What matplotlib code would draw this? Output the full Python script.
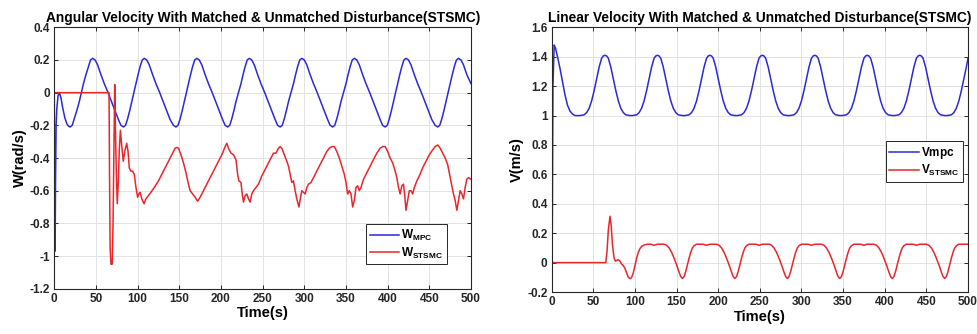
import matplotlib
matplotlib.use("Agg")
import matplotlib.pyplot as plt

plt.rcParams['font.family'] = ['Liberation Sans', 'DejaVu Sans']
plt.rcParams['mathtext.fontset'] = 'custom'
plt.rcParams['mathtext.rm'] = 'Liberation Sans'
plt.rcParams['mathtext.bf'] = 'Liberation Sans:bold'
plt.rcParams['mathtext.it'] = 'Liberation Sans:italic'

# ---------------- Left panel: angular velocity ----------------
t_w_mpc = [0, 0.4, 1.0, 1.5, 2.2, 3, 4.5, 6, 8, 10, 12.5, 15, 17, 19,
           21.5, 24, 27, 30, 32.5, 35, 38, 41, 43.5, 46,
           49, 52, 56, 60, 64.5, 69, 73, 77, 80, 83,
           85.5, 88, 90.5, 93, 95.5, 98, 100.5, 103, 105.5, 108,
           111, 114, 118, 122, 126.5, 131, 135, 139, 143, 146,
           148.5, 151, 153.5, 156, 158.5, 161, 163.5, 166, 168.5, 171,
           174, 177, 181, 185, 189.5, 194, 198, 202, 205, 208,
           210.5, 213, 215.5, 218, 221, 224, 226.5, 229, 231.5, 234,
           237, 240, 244, 248, 252.5, 257, 261, 265, 268, 271,
           273.5, 276, 278.5, 281, 284, 287, 289.5, 292, 294.5, 297,
           300, 303, 307, 311, 315.5, 320, 324, 328, 331, 334,
           336.5, 339, 341.5, 344, 347, 350, 352.5, 355, 357.5, 360,
           363, 366, 370, 374, 378.5, 383, 387, 391, 394, 397,
           399.5, 402, 404.5, 407, 409.5, 412, 414.5, 417, 419.5, 422,
           425, 428, 432, 436, 440.5, 445, 449, 453, 457, 460,
           462.5, 465, 467.5, 470, 472.5, 475, 477.5, 480, 482.5, 485,
           488, 491, 495, 500]
w_mpc = [0, -0.6, -0.97, -0.55, -0.2, -0.1, -0.02, 0.0, -0.03, -0.09, -0.15, -0.19, -0.205, -0.21,
         -0.20, -0.16, -0.11, -0.055, 0.0, 0.055, 0.11, 0.16, 0.20, 0.21,
         0.20, 0.17, 0.11, 0.055, 0.0, -0.06, -0.115, -0.165, -0.20, -0.21,
         -0.20, -0.16, -0.11, -0.055, 0.0, 0.055, 0.11, 0.16, 0.20, 0.21,
         0.20, 0.17, 0.11, 0.055, 0.0, -0.06, -0.115, -0.165, -0.20, -0.21,
         -0.20, -0.16, -0.11, -0.055, 0.0, 0.055, 0.11, 0.16, 0.20, 0.21,
         0.20, 0.17, 0.11, 0.055, 0.0, -0.06, -0.115, -0.165, -0.20, -0.21,
         -0.20, -0.16, -0.11, -0.055, 0.0, 0.055, 0.11, 0.16, 0.20, 0.21,
         0.20, 0.17, 0.11, 0.055, 0.0, -0.06, -0.115, -0.165, -0.20, -0.21,
         -0.20, -0.16, -0.11, -0.055, 0.0, 0.055, 0.11, 0.16, 0.20, 0.21,
         0.20, 0.17, 0.11, 0.055, 0.0, -0.06, -0.115, -0.165, -0.20, -0.21,
         -0.20, -0.16, -0.11, -0.055, 0.0, 0.055, 0.11, 0.16, 0.20, 0.21,
         0.20, 0.17, 0.11, 0.055, 0.0, -0.06, -0.115, -0.165, -0.20, -0.21,
         -0.20, -0.16, -0.11, -0.055, 0.0, 0.055, 0.11, 0.16, 0.20, 0.21,
         0.20, 0.17, 0.11, 0.055, 0.0, -0.06, -0.115, -0.165, -0.20, -0.21,
         -0.20, -0.16, -0.11, -0.055, 0.0, 0.055, 0.11, 0.16, 0.20, 0.21,
         0.20, 0.17, 0.11, 0.055]

t_w_stsmc = [0, 65.7, 66.3, 67, 68, 69.5, 70.5, 71.5, 72.5, 73.3, 74.5, 75.6, 76.8, 78,
             79.3, 81, 82.8, 84.5, 86.9, 88.5, 90, 91.7, 94, 96, 98, 100, 101.5, 103,
             105, 107.7, 110, 113, 116, 120, 125, 130, 135, 140, 143, 145, 147, 149,
             152, 155, 158, 161, 163, 166, 169, 172, 175, 178, 182, 186, 190, 194,
             198, 202, 205, 207, 209, 212, 215, 218, 220, 221.5, 224, 225.5, 227, 229,
             231, 233, 235, 237, 239, 242, 245, 249, 253, 257, 260, 263, 266, 269,
             271, 273, 276, 279, 281, 283, 285, 287, 289, 291, 293.5, 295.5, 297, 299,
             301, 303, 305, 308, 311, 315, 319, 323, 327, 330, 333, 336, 339, 342,
             345, 348, 350, 352, 354, 356, 358, 360, 362, 364, 366, 368, 371, 375,
             379, 383, 387, 391, 394, 397, 400, 403, 406, 409, 411, 413, 415, 417,
             419, 420.5, 422, 424, 426, 428, 430, 432, 435, 438, 442, 446, 450, 454,
             457, 460, 463, 466, 469, 472, 475, 477, 479, 481, 483, 485, 487, 489,
             491, 493, 495, 497, 500]
w_stsmc = [0, 0, -0.5, -0.95, -1.05, -1.05, -0.8, -0.4, 0.05, -0.2, -0.5, -0.68, -0.55, -0.35,
           -0.23, -0.33, -0.42, -0.36, -0.31, -0.36, -0.46, -0.48, -0.48, -0.50, -0.58, -0.64, -0.62, -0.61,
           -0.65, -0.68, -0.65, -0.63, -0.61, -0.58, -0.54, -0.49, -0.44, -0.39, -0.36, -0.34, -0.335, -0.34,
           -0.38, -0.43, -0.49, -0.56, -0.60, -0.62, -0.64, -0.665, -0.64, -0.61, -0.57, -0.53, -0.49, -0.45,
           -0.41, -0.37, -0.33, -0.31, -0.34, -0.37, -0.38, -0.41, -0.50, -0.54, -0.55, -0.62, -0.67, -0.63,
           -0.62, -0.65, -0.67, -0.62, -0.60, -0.58, -0.56, -0.51, -0.47, -0.43, -0.40, -0.37, -0.37, -0.34,
           -0.33, -0.34, -0.38, -0.42, -0.45, -0.50, -0.55, -0.54, -0.60, -0.65, -0.70, -0.64, -0.60, -0.61,
           -0.62, -0.58, -0.56, -0.55, -0.52, -0.48, -0.44, -0.40, -0.36, -0.34, -0.33, -0.33, -0.36, -0.40,
           -0.45, -0.50, -0.55, -0.62, -0.60, -0.62, -0.70, -0.66, -0.58, -0.57, -0.60, -0.58, -0.53, -0.49,
           -0.45, -0.41, -0.37, -0.34, -0.33, -0.33, -0.36, -0.40, -0.43, -0.48, -0.52, -0.58, -0.62, -0.57,
           -0.56, -0.63, -0.72, -0.66, -0.60, -0.60, -0.62, -0.58, -0.54, -0.51, -0.46, -0.42, -0.38, -0.35,
           -0.33, -0.32, -0.34, -0.37, -0.40, -0.44, -0.52, -0.57, -0.62, -0.66, -0.72, -0.66, -0.60, -0.62,
           -0.65, -0.58, -0.53, -0.52, -0.53]

# ---------------- Right panel: linear velocity ----------------
t_v_mpc = [0, 0.7, 1.5, 3, 4.5, 7, 10, 13, 16, 19, 22, 25, 28,
           34, 39, 42, 45, 48, 51, 54, 57, 60, 62, 64, 66, 68, 71, 74, 77, 80, 83, 86, 89, 94,
           97, 102, 105, 108, 111, 114, 117, 120, 123, 125, 127, 129, 131, 134, 137, 140, 143, 146, 149, 152, 157,
           160, 165, 168, 171, 174, 177, 180, 183, 186, 188, 190, 192, 194, 197, 200, 203, 206, 209, 212, 215, 220,
           223, 228, 231, 234, 237, 240, 243, 246, 249, 251, 253, 255, 257, 260, 263, 266, 269, 272, 275, 278, 283,
           286, 291, 294, 297, 300, 303, 306, 309, 312, 314, 316, 318, 320, 323, 326, 329, 332, 335, 338, 341, 346,
           349, 354, 357, 360, 363, 366, 369, 372, 375, 377, 379, 381, 383, 386, 389, 392, 395, 398, 401, 404, 409,
           412, 417, 420, 423, 426, 429, 432, 435, 438, 440, 442, 444, 446, 449, 452, 455, 458, 461, 464, 467, 472,
           475, 480, 483, 486, 489, 492, 495, 498, 500]
v_mpc = [0, 0.2, 1.2, 1.48, 1.46, 1.40, 1.32, 1.23, 1.14, 1.07, 1.03, 1.01, 1.0,
         1.0, 1.005, 1.02, 1.05, 1.10, 1.17, 1.25, 1.33, 1.39, 1.405, 1.41, 1.405, 1.39, 1.33, 1.25, 1.17, 1.10, 1.05, 1.02, 1.005, 1.0,
         1.0, 1.005, 1.02, 1.05, 1.10, 1.17, 1.25, 1.33, 1.39, 1.405, 1.41, 1.405, 1.39, 1.33, 1.25, 1.17, 1.10, 1.05, 1.02, 1.005, 1.0,
         1.0, 1.005, 1.02, 1.05, 1.10, 1.17, 1.25, 1.33, 1.39, 1.405, 1.41, 1.405, 1.39, 1.33, 1.25, 1.17, 1.10, 1.05, 1.02, 1.005, 1.0,
         1.0, 1.005, 1.02, 1.05, 1.10, 1.17, 1.25, 1.33, 1.39, 1.405, 1.41, 1.405, 1.39, 1.33, 1.25, 1.17, 1.10, 1.05, 1.02, 1.005, 1.0,
         1.0, 1.005, 1.02, 1.05, 1.10, 1.17, 1.25, 1.33, 1.39, 1.405, 1.41, 1.405, 1.39, 1.33, 1.25, 1.17, 1.10, 1.05, 1.02, 1.005, 1.0,
         1.0, 1.005, 1.02, 1.05, 1.10, 1.17, 1.25, 1.33, 1.39, 1.405, 1.41, 1.405, 1.39, 1.33, 1.25, 1.17, 1.10, 1.05, 1.02, 1.005, 1.0,
         1.0, 1.005, 1.02, 1.05, 1.10, 1.17, 1.25, 1.33, 1.39, 1.405, 1.41, 1.405, 1.39, 1.33, 1.25, 1.17, 1.10, 1.05, 1.02, 1.005, 1.0,
         1.0, 1.005, 1.02, 1.05, 1.10, 1.17, 1.25, 1.33, 1.39]

t_v_stsmc = [0, 65, 66.5, 68, 70, 71.5, 73, 75, 76.5, 78, 80, 82, 84, 86, 88, 90, 92, 94.5, 96,
             98, 100, 102, 104, 106, 108, 111, 115, 119, 123, 127, 132,
             135, 138, 141, 144, 147, 150, 153, 155, 157, 159, 161, 163, 165, 167, 169, 171, 174, 182, 186, 190,
             198, 201, 204, 207, 210, 213, 216, 218, 220, 222, 224, 226, 228, 230, 232, 234, 237, 245, 249, 253,
             261, 264, 267, 270, 273, 276, 279, 281, 283, 285, 287, 289, 291, 293, 295, 297, 300, 308, 312, 316,
             324, 327, 330, 333, 336, 339, 342, 344, 346, 348, 350, 352, 354, 356, 358, 360, 363, 371, 375, 379,
             387, 390, 393, 396, 399, 402, 405, 407, 409, 411, 413, 415, 417, 419, 421, 423, 426, 434, 438, 442,
             450, 453, 456, 459, 462, 465, 468, 470, 472, 474, 476, 478, 480, 482, 484, 486, 489, 496, 500]
v_stsmc = [0, 0, 0.08, 0.22, 0.315, 0.25, 0.12, 0.03, 0.01, 0.015, 0.02, 0.01, -0.01, -0.02, -0.04, -0.07, -0.10, -0.11, -0.10,
           -0.07, -0.02, 0.03, 0.07, 0.095, 0.11, 0.12, 0.125, 0.125, 0.118, 0.125, 0.125,
           0.125, 0.118, 0.10, 0.07, 0.03, -0.015, -0.065, -0.095, -0.108, -0.095, -0.06, -0.015, 0.03, 0.07, 0.10, 0.115, 0.125, 0.125, 0.118, 0.125,
           0.125, 0.118, 0.10, 0.07, 0.03, -0.015, -0.065, -0.095, -0.108, -0.095, -0.06, -0.015, 0.03, 0.07, 0.10, 0.115, 0.125, 0.125, 0.118, 0.125,
           0.125, 0.118, 0.10, 0.07, 0.03, -0.015, -0.065, -0.095, -0.108, -0.095, -0.06, -0.015, 0.03, 0.07, 0.10, 0.115, 0.125, 0.125, 0.118, 0.125,
           0.125, 0.118, 0.10, 0.07, 0.03, -0.015, -0.065, -0.095, -0.108, -0.095, -0.06, -0.015, 0.03, 0.07, 0.10, 0.115, 0.125, 0.125, 0.118, 0.125,
           0.125, 0.118, 0.10, 0.07, 0.03, -0.015, -0.065, -0.095, -0.108, -0.095, -0.06, -0.015, 0.03, 0.07, 0.10, 0.115, 0.125, 0.125, 0.118, 0.125,
           0.125, 0.118, 0.10, 0.07, 0.03, -0.015, -0.065, -0.095, -0.108, -0.095, -0.06, -0.015, 0.03, 0.07, 0.10, 0.115, 0.125, 0.125, 0.125]

left_title = 'Angular Velocity With Matched & Unmatched Disturbance(STSMC)'
right_title = 'Linear Velocity With Matched & Unmatched Disturbance(STSMC)'
left_yticks = [0.4, 0.2, 0, -0.2, -0.4, -0.6, -0.8, -1, -1.2]
right_yticks = [1.6, 1.4, 1.2, 1, 0.8, 0.6, 0.4, 0.2, 0, -0.2]
xticks = [0, 50, 100, 150, 200, 250, 300, 350, 400, 450, 500]

BLUE = '#2a2ad8'
RED = '#e8262c'

fig = plt.figure(figsize=(9.78, 3.34), dpi=100)
ax1 = fig.add_axes([0.0555, 0.1356, 0.4261, 0.7826])
ax2 = fig.add_axes([0.5641, 0.1257, 0.4257, 0.7925])


def style(ax, yticks, ylim, ylabel, title):
    ax.set_xlim(0, 500)
    ax.set_ylim(*ylim)
    ax.set_xticks(xticks)
    ax.set_yticks(yticks)
    ax.set_xticklabels([f'{v:g}' for v in xticks], fontweight='bold')
    ax.set_yticklabels([f'{v:g}' for v in yticks], fontweight='bold')
    ax.tick_params(direction='in', top=True, right=True, length=3, width=0.7,
                   labelsize=8.5, colors='#262626', pad=3)
    ax.grid(True, color='#e3e3e3', linewidth=0.7)
    ax.set_axisbelow(True)
    for s in ax.spines.values():
        s.set_color('#262626')
        s.set_linewidth(0.8)
    ax.set_xlabel('Time(s)', fontsize=10.5, fontweight='bold', labelpad=1)
    ax.set_ylabel(ylabel, fontsize=10.5, fontweight='bold', labelpad=2)
    ax.set_title(title, fontsize=9.9, fontweight='bold', pad=4)


ax1.plot(t_w_mpc, w_mpc, color=BLUE, lw=1.1, label=r'$\mathbf{W_{MPC}}$')
ax1.plot(t_w_stsmc, w_stsmc, color=RED, lw=1.1, label=r'$\mathbf{W_{STSMC}}$')
style(ax1, left_yticks, (-1.2, 0.4), 'W(rad/s)', left_title)
leg1 = ax1.legend(loc='lower right', bbox_to_anchor=(0.942, 0.094), fontsize=8.5,
                  frameon=True, fancybox=False, edgecolor='#262626', framealpha=1,
                  handlelength=2.5, handletextpad=0.2, borderpad=0.3, labelspacing=0.2,
                  borderaxespad=0)
leg1.get_frame().set_linewidth(0.7)

ax2.plot(t_v_mpc, v_mpc, color=BLUE, lw=1.1, label=r'$\mathbf{Vmpc}$')
ax2.plot(t_v_stsmc, v_stsmc, color=RED, lw=1.1, label=r'$\mathbf{V_{STSMC}}$')
style(ax2, right_yticks, (-0.2, 1.6), 'V(m/s)', right_title)
leg2 = ax2.legend(loc='lower right', bbox_to_anchor=(0.988, 0.417), fontsize=8.5,
                  frameon=True, fancybox=False, edgecolor='#262626', framealpha=1,
                  handlelength=2.5, handletextpad=0.2, borderpad=0.3, labelspacing=0.2,
                  borderaxespad=0)
leg2.get_frame().set_linewidth(0.7)

fig.savefig('out.png', dpi=100)
